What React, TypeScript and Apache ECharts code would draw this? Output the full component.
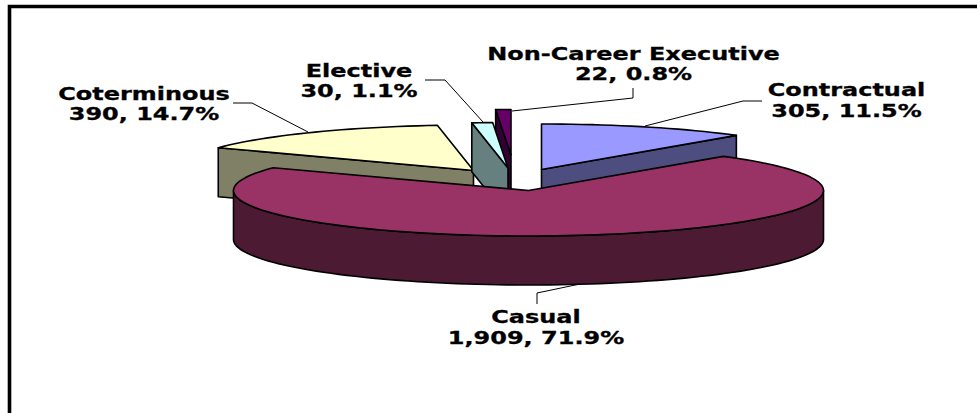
import React, { useEffect, useRef } from "react";
import * as echarts from "echarts";

const categories = ["Contractual", "Casual", "Coterminous", "Elective", "Non-Career Executive"];
const counts = [305, 1909, 390, 30, 22];

// Layout (pixels), kept apart from the data
const topColors = ["#9999FF", "#993366", "#FFFFCC", "#CCFFFF", "#660066"];
const sideColors = ["#4D4D80", "#4D1A33", "#808066", "#668080", "#330033"];
const apexX = [541.5, 528.5, 473.5, 508, 511];
const apexY = [169.5, 190.5, 170.5, 168, 155];
const drawOrder = [2, 4, 2, 3, 1];
const labelX = [846.5, 536, 144, 359, 633.5];
const labelY = [101, 328, 104.5, 81.5, 64.5];
const leaders = [
  [[762, 101], [743, 101], [645, 126]],
  [[537, 304], [537, 293], [580, 284]],
  [[233, 103], [252, 103], [308, 132]],
  [[425, 80], [445, 80], [483, 122]],
  [[633, 88], [633, 98], [512, 111]],
];
const RX = 295;
const RY = 45.5;
const DEPTH = 49;
const STROKE = { stroke: "#000", lineWidth: 1.6, lineJoin: "round" };

const total = counts.reduce((a, b) => a + b, 0);
const startAngles: number[] = [];
counts.reduce((acc, v) => {
  startAngles.push(acc);
  return acc + (v / total) * 360;
}, -90);

const rad = (d: number) => (d * Math.PI) / 180;

function arcPoints(cx: number, cy: number, a0: number, a1: number) {
  const n = Math.max(2, Math.ceil((a1 - a0) / 2));
  const pts: number[][] = [];
  for (let i = 0; i <= n; i++) {
    const a = rad(a0 + ((a1 - a0) * i) / n);
    pts.push([cx + RX * Math.cos(a), cy + RY * Math.sin(a)]);
  }
  return pts;
}

function renderItem(params: any, api: any) {
  const i = params.dataIndex;
  const cx = apexX[i];
  const cy = apexY[i];
  const a0 = startAngles[i];
  const a1 = a0 + (api.value(0) / total) * 360;
  const z = drawOrder[i] * 10;
  const side = { ...STROKE, fill: sideColors[i] };
  const top = { ...STROKE, fill: topColors[i] };
  const children: any[] = [];

  const edgeFace = (a: number) => {
    const p = [cx + RX * Math.cos(rad(a)), cy + RY * Math.sin(rad(a))];
    children.push({
      type: "polygon",
      z2: z,
      shape: { points: [p, [cx, cy], [cx, cy + DEPTH], [p[0], p[1] + DEPTH]] },
      style: side,
    });
  };
  if (Math.cos(rad(a0)) < -1e-6) edgeFace(a0);
  if (Math.cos(rad(a1)) > 1e-6) edgeFace(a1);

  const r0 = Math.max(a0, 0);
  const r1 = Math.min(a1, 180);
  if (r1 > r0) {
    const upper = arcPoints(cx, cy, r0, r1);
    const lower = upper.map((p) => [p[0], p[1] + DEPTH]).reverse();
    children.push({
      type: "polygon",
      z2: z + 1,
      shape: { points: [...upper, ...lower] },
      style: side,
    });
  }
  children.push({
    type: "polygon",
    z2: z + 2,
    shape: { points: [[cx, cy], ...arcPoints(cx, cy, a0, a1)] },
    style: top,
  });
  return { type: "group", children };
}

export default function App() {
  const ref = useRef<HTMLDivElement>(null);
  useEffect(() => {
    const chart = echarts.init(ref.current!, undefined, { renderer: "svg" });
    const labels = categories.map((name, i) => ({
      type: "text",
      z: 20,
      x: labelX[i],
      y: labelY[i],
      scaleX: 1.41,
      style: {
        text: `${name}\n${counts[i].toLocaleString("en-US")}, ${((counts[i] / total) * 100).toFixed(1)}%`,
        x: 0,
        y: 0,
        align: "center",
        verticalAlign: "middle",
        font: 'bold 17px "DejaVu Sans"',
        lineHeight: 20.5,
        fill: "#000",
        stroke: "#000",
        lineWidth: 0.3,
      },
    }));
    const lines = leaders.map((pts) => ({
      type: "polyline",
      z: 15,
      shape: { points: pts },
      style: { stroke: "#000", lineWidth: 1, fill: "none" },
    }));
    chart.setOption({
      animation: false,
      backgroundColor: "#fff",
      graphic: [
        ...lines,
        ...labels,
        {
          type: "polyline",
          z: 15,
          shape: { points: [[9.5, 413], [9.5, 6.5], [977, 6.5]] },
          style: { stroke: "#000", lineWidth: 3.6, fill: "none" },
        },
      ],
      series: [
        {
          type: "custom",
          coordinateSystem: "none",
          renderItem,
          data: counts.map((v) => [v]),
          silent: true,
        },
      ],
    });
    return () => chart.dispose();
  }, []);
  return (
    <div
      ref={ref}
      style={{ position: "absolute", left: 0, top: 0, width: 977, height: 413 }}
    />
  );
}
